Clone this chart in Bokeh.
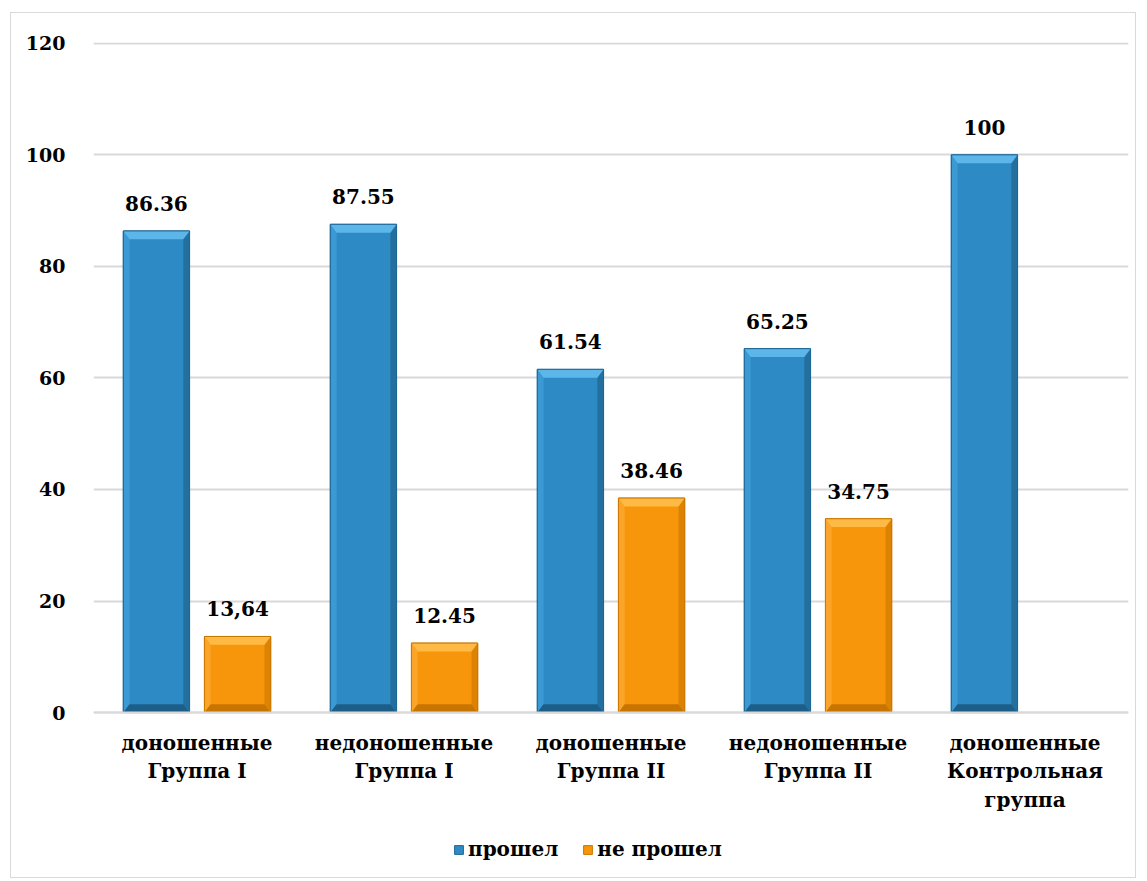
from bokeh.plotting import figure
from bokeh.models import (Range1d, FixedTicker, ColumnDataSource, LabelSet,
                          Legend, LegendItem)
from bokeh.core.properties import value
from bokeh.embed import file_html
from bokeh.resources import INLINE

categories = ["доношенные\nГруппа I", "недоношенные\nГруппа I",
              "доношенные\nГруппа II", "недоношенные\nГруппа II",
              "доношенные\nКонтрольная\nгруппа"]
passed = [86.36, 87.55, 61.54, 65.25, 100]
failed = [13.64, 12.45, 38.46, 34.75, 0]
passed_labels = ["86.36", "87.55", "61.54", "65.25", "100"]
failed_labels = ["13,64", "12.45", "38.46", "34.75", ""]
series_names = ["прошел", "не прошел"]
y_ticks = [0, 20, 40, 60, 80, 100, 120]

FONT = "DejaVu Serif"
BAR_W = 0.32
OFFSET = 0.196
BX = 0.03    # bevel width in x units
BY = 1.5     # bevel height in y units

# the frame continues below zero so that the category labels and the legend sit inside it
p = figure(width=1126, height=866, output_backend="svg", toolbar_location=None,
           x_range=Range1d(0, len(categories)), y_range=Range1d(-29.4, 120.15),
           min_border_left=82, min_border_right=9, min_border_top=29,
           min_border_bottom=3, margin=(12, 0, 0, 10),
           styles={"border": "1px solid #d9d9d9", "box-sizing": "border-box"})
p.outline_line_color = None
p.background_fill_color = "white"
p.border_fill_color = "white"

# axes
p.xaxis.fixed_location = 0
p.xaxis.ticker = FixedTicker(ticks=[i + 0.5 for i in range(len(categories))])
p.xaxis.major_label_overrides = {i + 0.5: c for i, c in enumerate(categories)}
p.yaxis.ticker = FixedTicker(ticks=y_ticks)
for ax in (p.xaxis, p.yaxis):
    ax.major_tick_line_color = None
    ax.minor_tick_line_color = None
    ax.major_label_text_font = FONT
    ax.major_label_text_font_style = "bold"
    ax.major_label_text_color = "black"
p.yaxis.major_label_text_font_size = "19px"
p.xaxis.major_label_text_font_size = "20px"
p.yaxis.axis_line_color = None
p.yaxis.major_label_standoff = 22
p.xaxis.axis_line_color = "#d9d9d9"
p.xaxis.axis_line_width = 2
p.xaxis.major_label_standoff = 12
p.xgrid.grid_line_color = None
p.ygrid.grid_line_color = "#d9d9d9"
p.ygrid.grid_line_width = 2

styles = [
    # body, top bevel, left bevel, right bevel, bottom bevel, outline
    ("#2E8AC5", "#5CB6EA", "#3B9AD3", "#23709F", "#1D5E88", "#1F6695"),
    ("#F7960B", "#FFBA45", "#FBA42A", "#DD8304", "#C87400", "#C97700"),
]

renderers = []
for s, (vals, off) in enumerate(((passed, -OFFSET), (failed, OFFSET))):
    body, top, left, right, bottom, outline = styles[s]
    xs_c = [i + 0.5 + off for i in range(len(vals))]
    L = [c - BAR_W / 2 for c in xs_c]
    R = [c + BAR_W / 2 for c in xs_c]
    idx = [i for i, v in enumerate(vals) if v > 0]
    src = ColumnDataSource(dict(x=[xs_c[i] for i in idx], top=[vals[i] for i in idx]))
    r = p.vbar(x="x", top="top", width=BAR_W, source=src, fill_color=body,
               line_color=outline, line_width=1)
    renderers.append(r)
    tops = dict(xs=[], ys=[])
    lefts = dict(xs=[], ys=[])
    rights = dict(xs=[], ys=[])
    bots = dict(xs=[], ys=[])
    for i in idx:
        l, rr, h = L[i], R[i], vals[i]
        tops["xs"].append([l, rr, rr - BX, l + BX]); tops["ys"].append([h, h, h - BY, h - BY])
        lefts["xs"].append([l, l + BX, l + BX, l]); lefts["ys"].append([h, h - BY, BY, 0])
        rights["xs"].append([rr, rr - BX, rr - BX, rr]); rights["ys"].append([h, h - BY, BY, 0])
        bots["xs"].append([l, l + BX, rr - BX, rr]); bots["ys"].append([0, BY, BY, 0])
    p.patches("xs", "ys", source=ColumnDataSource(lefts), fill_color=left, line_color=None)
    p.patches("xs", "ys", source=ColumnDataSource(rights), fill_color=right, line_color=None)
    p.patches("xs", "ys", source=ColumnDataSource(bots), fill_color=bottom, line_color=None)
    p.patches("xs", "ys", source=ColumnDataSource(tops), fill_color=top, line_color=None)
    p.vbar(x="x", top="top", width=BAR_W, source=src, fill_color=None,
           line_color=outline, line_width=1)

# value labels
lab_src = ColumnDataSource(dict(
    x=[i + 0.5 - OFFSET for i in range(len(passed))] + [i + 0.5 + OFFSET for i in range(len(failed))],
    y=passed + failed,
    t=passed_labels + failed_labels))
labels = LabelSet(x="x", y="y", text="t", source=lab_src, text_align="center",
                  text_baseline="bottom", y_offset=20, text_font=value(FONT),
                  text_font_style="bold", text_font_size="20px", text_color="black")
p.add_layout(labels)

legend = Legend(items=[LegendItem(label=series_names[0], renderers=[renderers[0]]),
                       LegendItem(label=series_names[1], renderers=[renderers[1]])],
                orientation="horizontal", location=(360, 15),
                glyph_width=11, glyph_height=11, label_standoff=4, spacing=24,
                padding=0, margin=0, border_line_color=None,
                background_fill_alpha=0,
                label_text_font=FONT, label_text_font_style="bold",
                label_text_font_size="20px", label_text_color="black")
p.add_layout(legend)

open("out.html", "w").write(file_html(p, INLINE))
